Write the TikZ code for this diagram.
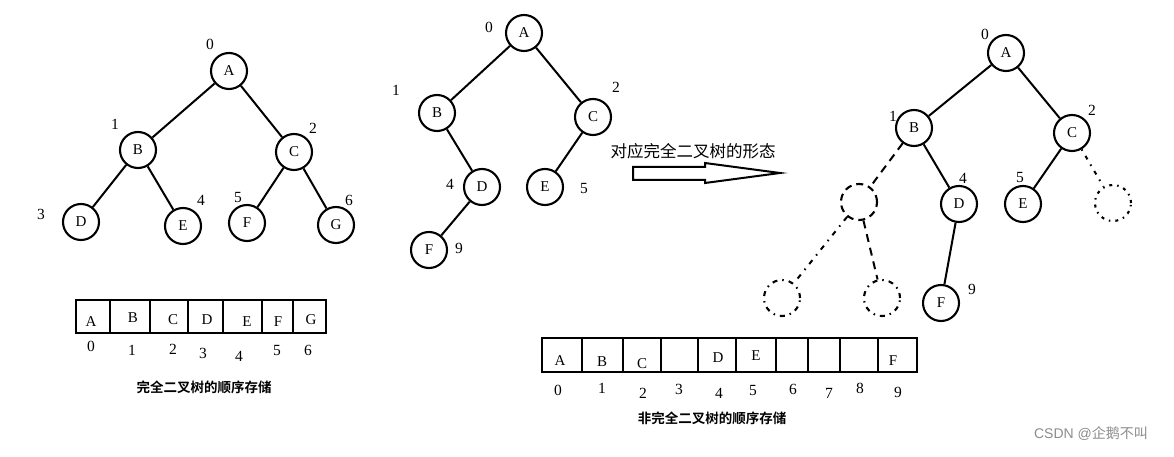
\documentclass[tikz,border=0pt]{standalone}
\usepackage{fontspec}
\setmainfont{Liberation Serif}
\newfontfamily\cjk{Noto Sans CJK SC}
\newfontfamily\cjkb{Noto Sans CJK SC Bold}
\newfontfamily\wmfont{Liberation Sans}
\begin{document}
\begin{tikzpicture}[x=1pt,y=-1pt,
  tn/.style={circle,draw,line width=2.1pt,minimum size=36pt,inner sep=0pt,font=\fontsize{15}{17}\selectfont},
  ghost/.style={circle,draw,line width=2.1pt,minimum size=36pt,inner sep=0pt},
  lbl/.style={inner sep=0pt,font=\fontsize{15.5}{17}\selectfont},
  cell/.style={inner sep=0pt,font=\fontsize{15}{17}\selectfont},
  edge/.style={line width=2pt},
  arr/.style={line width=2.2pt}]
\useasboundingbox (0,0) rectangle (1174,457);
\fill[white] (0,0) rectangle (1174,457);

% ---------- left complete tree ----------
\node[tn] (LA) at (229,71) {A};
\node[tn] (LB) at (138,150) {B};
\node[tn] (LC) at (294,152) {C};
\node[tn] (LD) at (81,222) {D};
\node[tn] (LE) at (183,226) {E};
\node[tn] (LF) at (247,223) {F};
\node[tn] (LG) at (336,225) {G};
\draw[edge] (LA) -- (LB);
\draw[edge] (LA) -- (LC);
\draw[edge] (LB) -- (LD);
\draw[edge] (LB) -- (LE);
\draw[edge] (LC) -- (LF);
\draw[edge] (LC) -- (LG);
\node[lbl] (l0) at (210,44) {0};
\node[lbl] (l1) at (115,124) {1};
\node[lbl] (l2) at (313,128) {2};
\node[lbl] (l3) at (41,214) {3};
\node[lbl] (l4) at (201,200) {4};
\node[lbl] (l5) at (238,198) {5};
\node[lbl] (l6) at (349,200) {6};

% left array
\draw[arr] (76,300) rectangle (326,333);
\foreach \x in {110,150,188,223,262,293} \draw[arr] (\x,300) -- (\x,333);
\node[cell] (ca0) at (91,322) {A};
\node[cell] (ca1) at (133,318) {B};
\node[cell] (ca2) at (173,320) {C};
\node[cell] (ca3) at (207,320) {D};
\node[cell] (ca4) at (247,322) {E};
\node[cell] (ca5) at (278,322) {F};
\node[cell] (ca6) at (311,320) {G};
\node[lbl] (ia0) at (91,346) {0};
\node[lbl] (ia1) at (132,350) {1};
\node[lbl] (ia2) at (173,349) {2};
\node[lbl] (ia3) at (203,353) {3};
\node[lbl] (ia4) at (239,356) {4};
\node[lbl] (ia5) at (277,350) {5};
\node[lbl] (ia6) at (308,350) {6};
\node[inner sep=0pt,font=\cjkb\fontsize{13.5}{15}\selectfont] (capL) at (204,387) {完全二叉树的顺序存储};

% ---------- middle tree ----------
\node[tn] (MA) at (524,33) {A};
\node[tn] (MB) at (437,113) {B};
\node[tn] (MC) at (593,117) {C};
\node[tn] (MD) at (482,187) {D};
\node[tn] (ME) at (545,187) {E};
\node[tn] (MF) at (429,250) {F};
\draw[edge] (MA) -- (MB);
\draw[edge] (MA) -- (MC);
\draw[edge] (MB) -- (MD);
\draw[edge] (MC) -- (ME);
\draw[edge] (MD) -- (MF);
\node[lbl] (m0) at (489,27) {0};
\node[lbl] (m1) at (396,90) {1};
\node[lbl] (m2) at (616,87) {2};
\node[lbl] (m4) at (450,184) {4};
\node[lbl] (m5) at (584,189) {5};
\node[lbl] (m9) at (459,248) {9};

% arrow and caption
\node[inner sep=0pt,font=\cjk\fontsize{16.5}{18}\selectfont] (arrtxt) at (693,151) {对应完全二叉树的形态};
\draw[line width=2pt] (633,167) -- (705,167) -- (705,163) -- (780,173) -- (705,183) -- (705,180) -- (633,180) -- cycle;

% ---------- right tree ----------
\node[tn] (RA) at (1006,53) {A};
\node[tn] (RB) at (914,128) {B};
\node[tn] (RC) at (1072,133) {C};
\node[tn] (RD) at (959,204) {D};
\node[tn] (RE) at (1023,204) {E};
\node[tn] (RF) at (941,303) {F};
\node[ghost,dash pattern=on 7pt off 5pt] (RG1) at (859,202) {};
\node[ghost,dash pattern=on 3pt off 5pt on 1.5pt off 5pt] (RG2) at (1113,203) {};
\node[ghost,dash pattern=on 5pt off 5pt on 1.5pt off 5pt] (RG3) at (782,298) {};
\node[ghost,dash pattern=on 5pt off 5pt on 1.5pt off 5pt] (RG4) at (882,298) {};
\draw[edge] (RA) -- (RB);
\draw[edge] (RA) -- (RC);
\draw[edge] (RB) -- (RD);
\draw[edge] (RC) -- (RE);
\draw[edge] (RD) -- (RF);
\draw[edge,dash pattern=on 8pt off 6pt] (RB) -- (RG1);
\draw[edge,dash pattern=on 1.5pt off 6pt on 4pt off 6pt] (RC) -- (RG2);
\draw[edge,dash pattern=on 5pt off 6pt on 1.5pt off 6pt] (RG1) -- (RG3);
\draw[edge,dash pattern=on 8pt off 6pt] (RG1) -- (RG4);
\node[lbl] (r0) at (985,34) {0};
\node[lbl] (r1) at (893,116) {1};
\node[lbl] (r2) at (1092,110) {2};
\node[lbl] (r4) at (963,178) {4};
\node[lbl] (r5) at (1020,178) {5};
\node[lbl] (r9) at (972,289) {9};

% right array
\draw[arr] (542,338) rectangle (917,372);
\foreach \x in {582,623,661,698,736,776,808,840,878} \draw[arr] (\x,338) -- (\x,372);
\node[cell] (cb0) at (560,361) {A};
\node[cell] (cb1) at (602,362) {B};
\node[cell] (cb2) at (642,364) {C};
\node[cell] (cb4) at (718,358) {D};
\node[cell] (cb5) at (756,356) {E};
\node[cell] (cb9) at (893,361) {F};
\node[lbl] (ib0) at (558,390) {0};
\node[lbl] (ib1) at (602,388) {1};
\node[lbl] (ib2) at (643,393) {2};
\node[lbl] (ib3) at (679,389) {3};
\node[lbl] (ib4) at (719,393) {4};
\node[lbl] (ib5) at (753,390) {5};
\node[lbl] (ib6) at (793,389) {6};
\node[lbl] (ib7) at (829,393) {7};
\node[lbl] (ib8) at (860,388) {8};
\node[lbl] (ib9) at (898,392) {9};
\node[inner sep=0pt,font=\cjkb\fontsize{13.5}{15}\selectfont] (capR) at (712,418) {非完全二叉树的顺序存储};

% watermark
\node[inner sep=0pt,text=black!45,font=\fontsize{14}{16}\selectfont] (wm) at (1091,434) {\wmfont CSDN @\cjk 企鹅不叫};
\end{tikzpicture}
\end{document}
